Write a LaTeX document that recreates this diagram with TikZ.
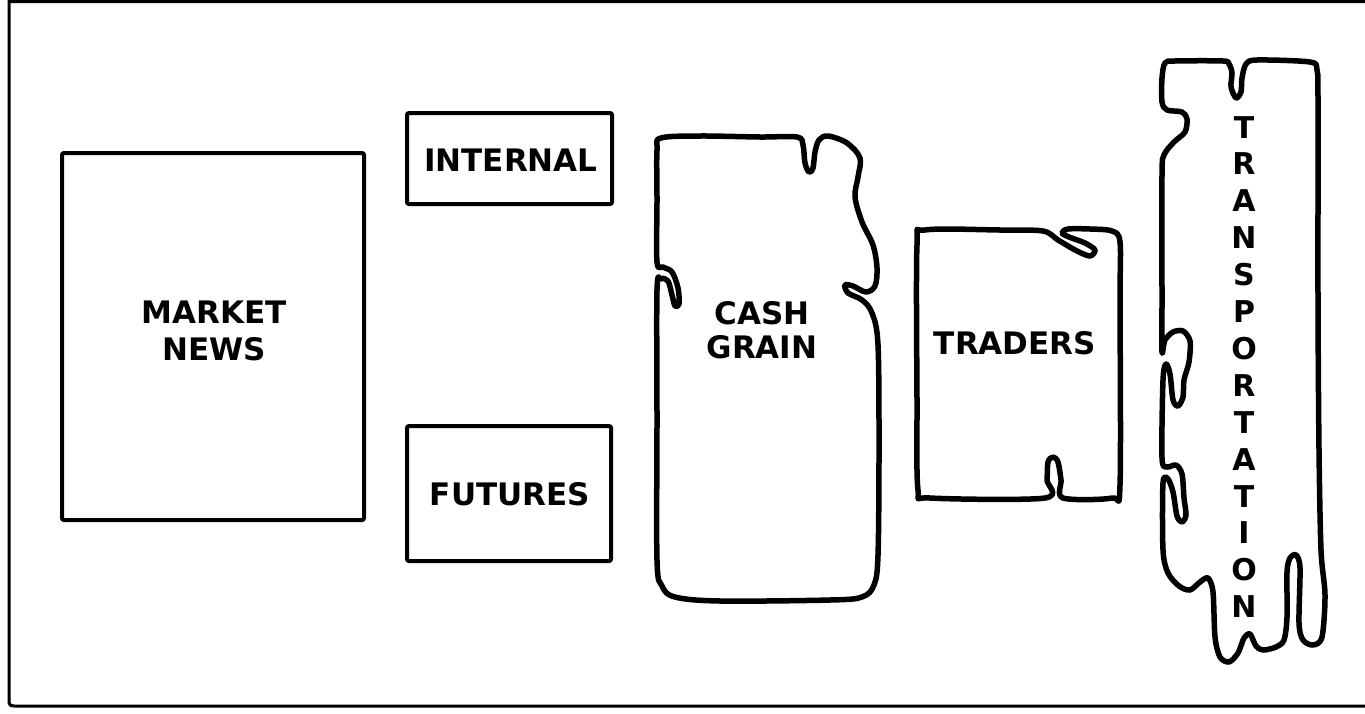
\documentclass[tikz,border=0pt]{standalone}
\usepackage{fontspec}
\newfontfamily\lab{DejaVu Sans Bold}
\begin{document}
\begin{tikzpicture}[x=1pt,y=-1pt,
  frame/.style={line width=3pt},
  box/.style={draw,line width=4pt,rounded corners=2pt,inner sep=0pt},
  blob/.style={line width=5.5pt,line join=round},
  txt/.style={font=\lab\fontsize{31}{36}\selectfont,align=center,inner sep=0pt}]
\useasboundingbox (0,0) rectangle (1365,713);
% frame
\draw[frame] (1365,1.5) -- (9,1.5) -- (9,703) to[out=-90,in=180] (14,706) -- (1365,706);
% rectangular boxes
\node[box,minimum width=302pt,minimum height=367pt] (mnews) at (213,336.5) {};
\node[txt,font=\lab\fontsize{31}{37}\selectfont] (mnewst) at (214,331) {MARKET\\NEWS};
\node[box,minimum width=205pt,minimum height=91pt] (internal) at (509.5,158.5) {};
\node[txt] (internalt) at (511,160) {INTERNAL};
\node[box,minimum width=204pt,minimum height=135pt] (futures) at (509,493.5) {};
\node[txt] (futurest) at (510,494) {FUTURES};
% cash grain
\draw[blob] plot[smooth cycle,tension=0.55] coordinates {
 (661,138) (700,136) (760,137) (797,137) (803,145) (805,163) (809,172) (813,168) (815,152) (819,140) (828,136)
 (847,143) (860,158) (858,177) (855,197) (862,222) (873,245) (877,268) (875,286) (866,292) (853,286) (845,285)
 (848,293) (862,300) (872,313) (878,345) (879,450) (878,555) (874,585) (862,597) (830,600) (720,601)
 (675,597) (662,586) (657,560) (657,420) (657,290) (661,279) (668,281) (672,295) (675,306) (679,304)
 (678,288) (672,272) (663,267) (657,262) (657,200) (657,150)};
\node[txt,font=\lab\fontsize{31}{34}\selectfont] (cash) at (762,330) {CASH\\GRAIN};
% traders
\draw[blob] plot[smooth cycle,tension=0.5] coordinates {
 (925,230) (1000,230) (1043,231) (1058,240) (1077,251) (1090,256) (1095,250) (1085,243) (1069,237)
 (1062,233) (1068,229) (1090,229) (1112,231) (1120,242) (1120,300) (1120,485) (1112,498)
 (1063,498) (1061,480) (1058,462) (1053,457) (1048,462) (1047,480) (1045,498)
 (930,498) (918,490) (917,400) (917,245)};
\node[txt] (traders) at (1015,343) {TRADERS};
% transportation
\draw[blob] plot[smooth cycle,tension=0.5] coordinates {
 (1165,63) (1175,61) (1223,61) (1229,64) (1232,73) (1231,87) (1236,98) (1241,92) (1242,78) (1246,64)
 (1257,60) (1310,62) (1317,70) (1318,100) (1318,300) (1319,450) (1321,550) (1325,595) (1322,637)
 (1313,645) (1303,640) (1299,623) (1300,568) (1296,555) (1290,558) (1287,572) (1287,617) (1284,640)
 (1276,647) (1263,650) (1256,646) (1250,634) (1244,638) (1238,653) (1229,662) (1220,657) (1215,637)
 (1213,592) (1208,578) (1200,582) (1190,590) (1179,586) (1168,573) (1163,550)
 (1163,483) (1168,479) (1173,492) (1177,516) (1182,522) (1186,515) (1184,498) (1182,474) (1176,465)
 (1167,467) (1162,458) (1163,380) (1166,364) (1170,374) (1173,400) (1178,406) (1183,397) (1184,380)
 (1189,362) (1190,341) (1183,331) (1173,332) (1165,340) (1162,352) (1162,300) (1162,175) (1164,155)
 (1174,142) (1185,132) (1187,119) (1182,112) (1167,110) (1162,102) (1162,78)};
\node[txt,font=\lab\fontsize{30}{36.9}\selectfont] (transp) at (1244,367)
 {T\\R\\A\\N\\S\\P\\O\\R\\T\\A\\T\\I\\O\\N};
\end{tikzpicture}
\end{document}
